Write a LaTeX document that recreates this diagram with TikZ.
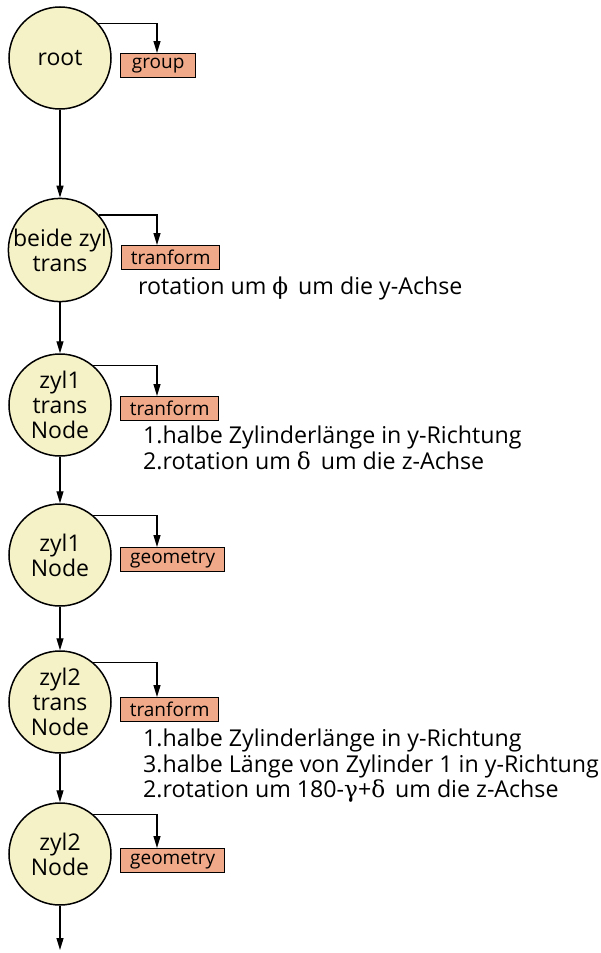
\documentclass[tikz,border=0pt]{standalone}
\usepackage{fontspec}
\setmainfont{Open Sans}
\newfontfamily\grk{DejaVu Serif}
\usetikzlibrary{arrows.meta}
\definecolor{nodefill}{RGB}{246,242,200}
\definecolor{boxfill}{RGB}{240,170,138}

\begin{document}
\begin{tikzpicture}[x=1pt,y=-1pt,
  sgnode/.style={circle,draw=black,line width=1.5pt,fill=nodefill,minimum size=102pt,
    inner sep=0pt,align=center,font=\fontsize{23}{25}\selectfont},
  attr/.style={draw=black,line width=1.3pt,fill=boxfill,anchor=north west,
    minimum height=24pt,inner sep=0pt,font=\fontsize{19}{20}\selectfont},
  note/.style={anchor=north west,align=left,inner sep=0pt,font=\fontsize{23.2}{25.5}\selectfont},
  arr/.style={line width=1.2pt,-{Triangle[width=7pt,length=12pt]}}]

  % canvas
  \fill[white] (0,0) rectangle (600,953);

  % scene graph nodes
  \node[sgnode] (root)  at (60,58)  {root};
  \node[sgnode] (beide) at (60,250) {beide zyl\\trans};
  \node[sgnode] (z1t)   at (60,405) {zyl1\\trans\\Node};
  \node[sgnode] (z1n)   at (60,555) {zyl1\\Node};
  \node[sgnode] (z2t)   at (60,702) {zyl2\\trans\\Node};
  \node[sgnode] (z2n)   at (60,854) {zyl2\\Node};
  \coordinate (bottom) at (60,950);

  % attached node types
  \node[attr,minimum width=75pt]  (grp)  at (120,53)  {group};
  \node[attr,minimum width=98pt]  (tf0)  at (121,245) {tranform};
  \node[attr,minimum width=98pt]  (tf1)  at (120,396) {tranform};
  \node[attr,minimum width=104pt] (geo1) at (120,547) {geometry};
  \node[attr,minimum width=98pt]  (tf2)  at (120,697) {tranform};
  \node[attr,minimum width=104pt] (geo2) at (120,848) {geometry};

  % descriptions
  \node[note] (n0) at (138,277) {rotation um {\grk ϕ}\, um die y-Achse};
  \node[note] (n1) at (143,426) {1.halbe Zylinderlänge in y-Richtung\\2.rotation um {\grk δ}\, um die z-Achse};
  \node[note] (n2) at (143,729) {1.halbe Zylinderlänge in y-Richtung\\3.halbe Länge von Zylinder 1 in y-Richtung\\2.rotation um 180-{\grk γ}+{\grk δ}\, um die z-Achse};

  % hierarchy
  \draw[arr] (root) -- (beide);
  \draw[arr] (beide) -- (z1t);
  \draw[arr] (z1t) -- (z1n);
  \draw[arr] (z1n) -- (z2t);
  \draw[arr] (z2t) -- (z2n);
  \draw[arr] (z2n) -- (bottom);

  % links to node types
  \draw[arr] (root.42)  -| ([xshift=37pt]grp.north west);
  \draw[arr] (beide.42) -| ([xshift=36pt]tf0.north west);
  \draw[arr] (z1t.50)   -| ([xshift=37pt]tf1.north west);
  \draw[arr] (z1n.50)   -| ([xshift=37pt]geo1.north west);
  \draw[arr] (z2t.50)   -| ([xshift=37pt]tf2.north west);
  \draw[arr] (z2n.50)   -| ([xshift=37pt]geo2.north west);
\end{tikzpicture}
\end{document}
